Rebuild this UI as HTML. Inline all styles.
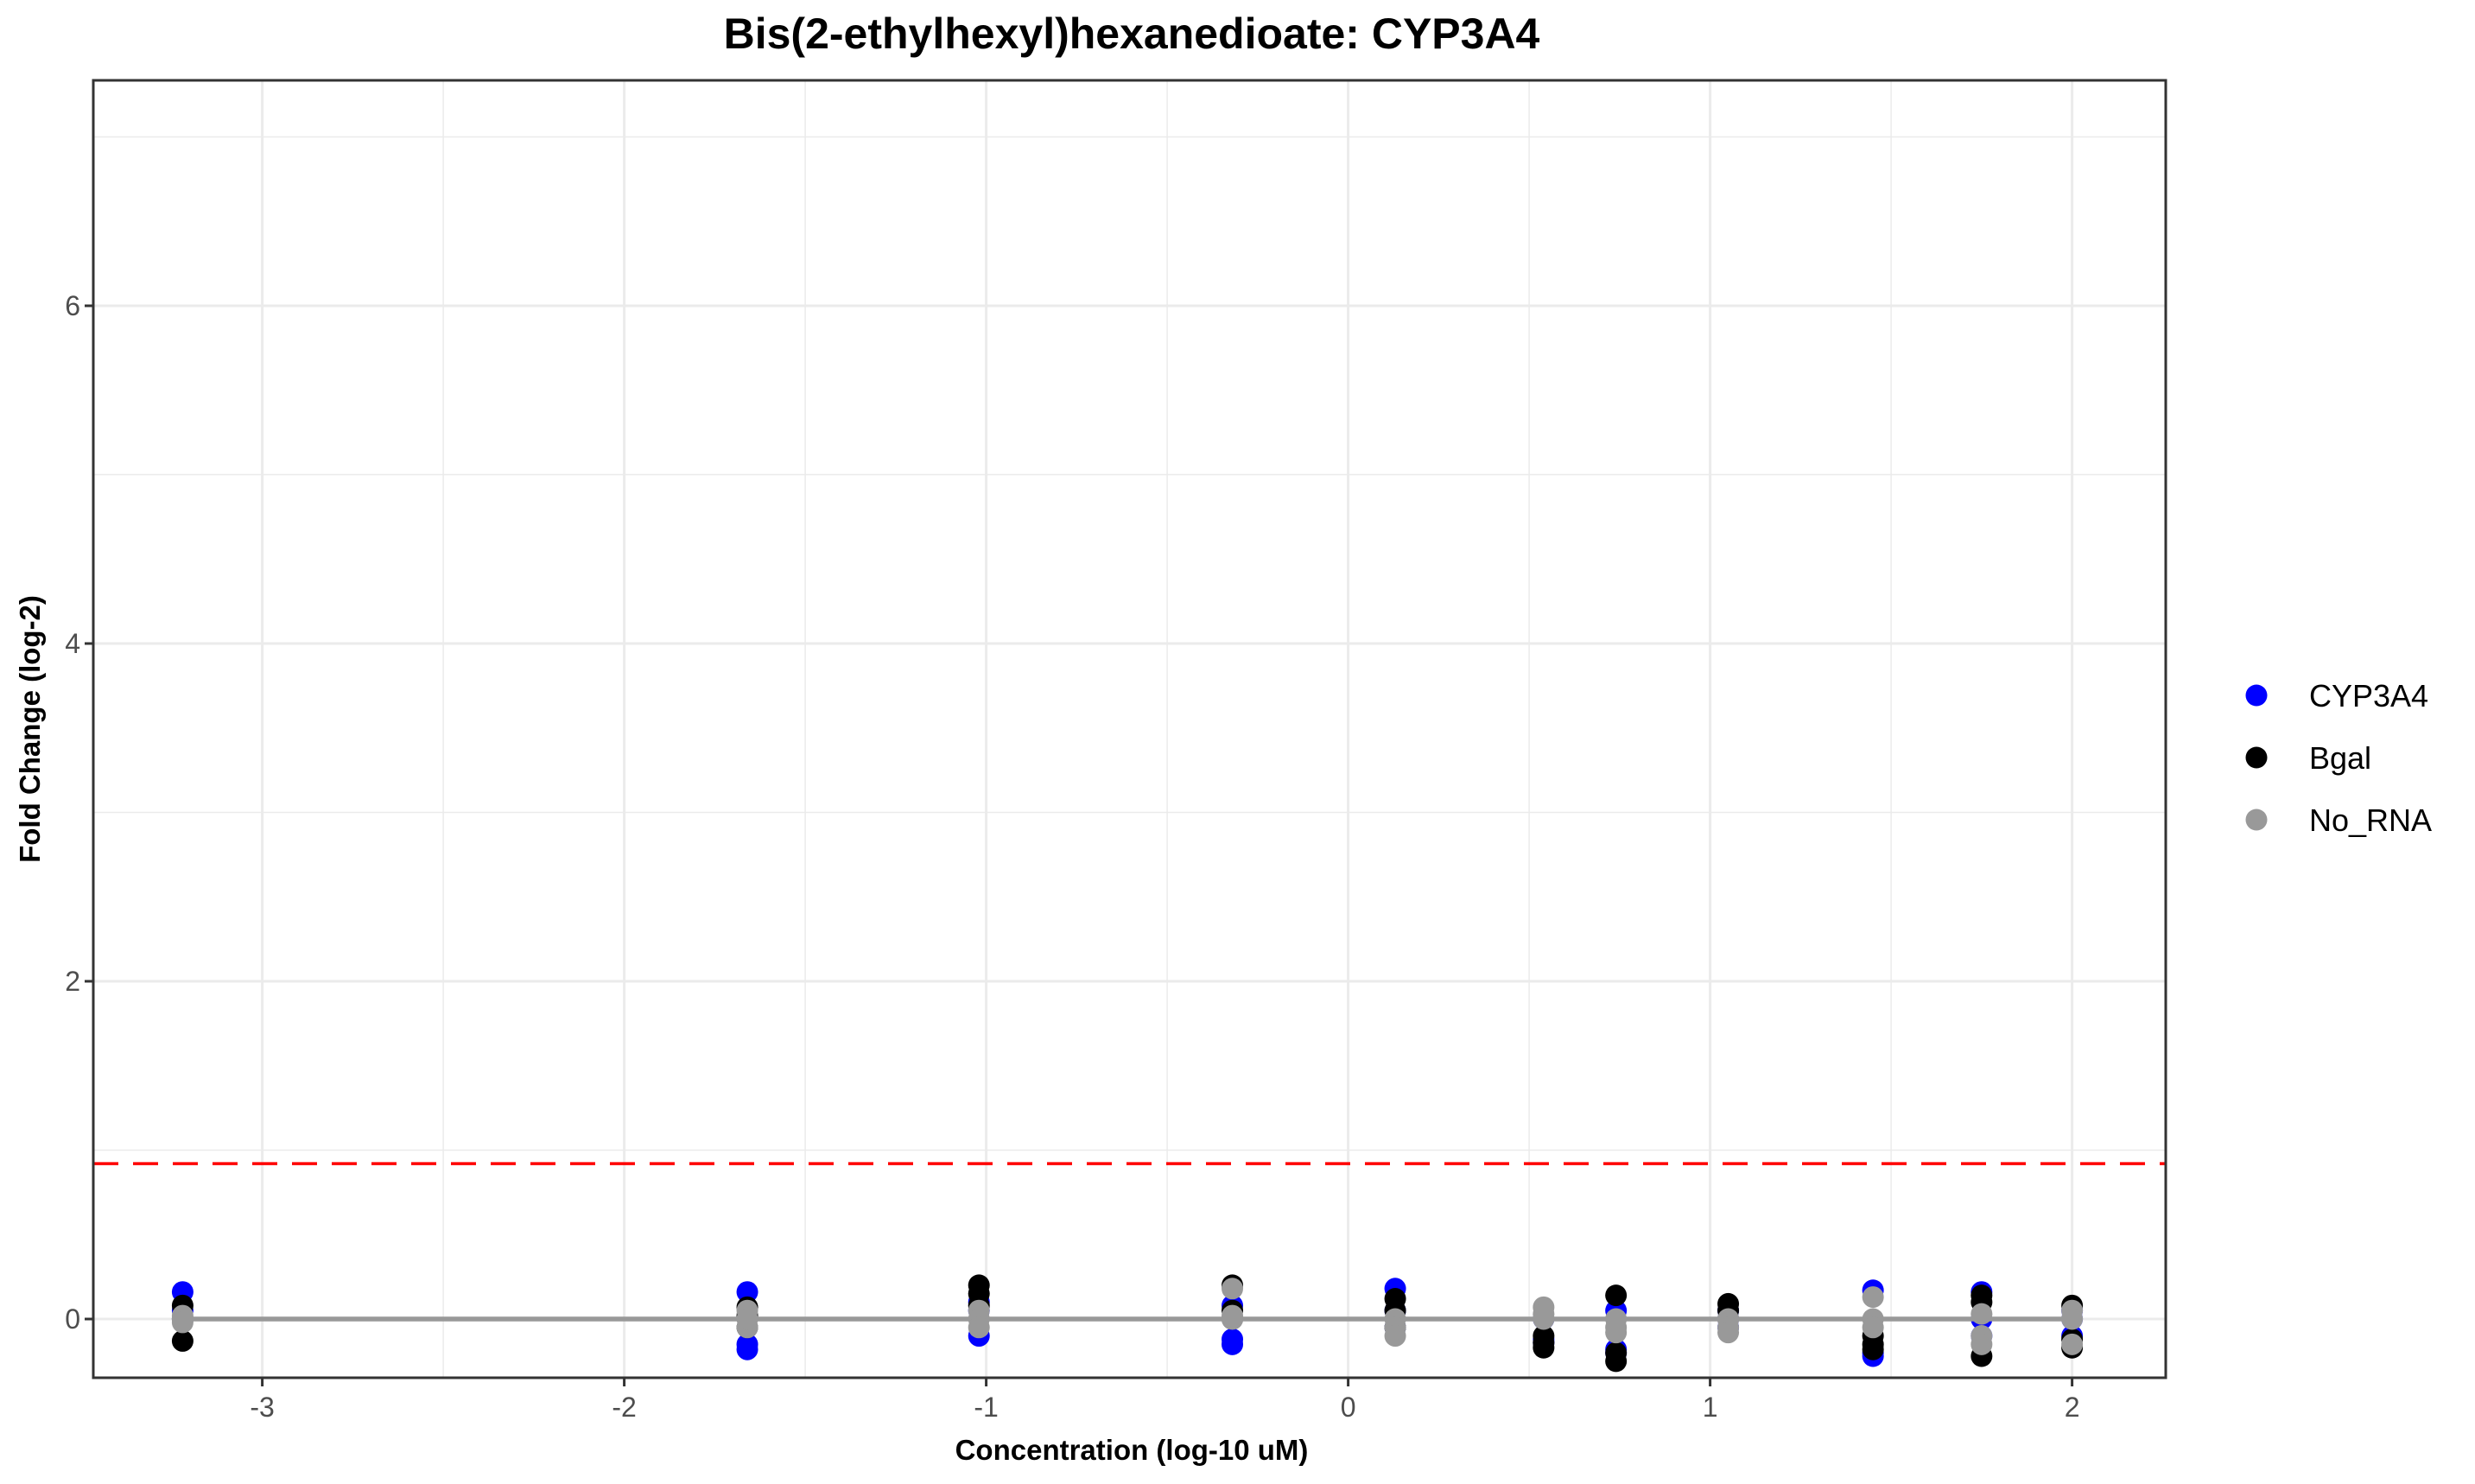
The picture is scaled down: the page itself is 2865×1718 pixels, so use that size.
<!DOCTYPE html>
<html><head><meta charset="utf-8"><style>
html,body{margin:0;padding:0;background:#fff;}
svg{display:block;font-family:"Liberation Sans",Arial,sans-serif;}
</style></head><body>
<svg id="chart" width="2865" height="1718" viewBox="0 0 2865 1718">
<text x="1310" y="56" text-anchor="middle" font-size="50" font-weight="bold">Bis(2-ethylhexyl)hexanedioate: CYP3A4</text>
<g id="grid"></g>
<g id="marks"></g>
<rect x="108" y="93" width="2399" height="1502" fill="none" stroke="#333" stroke-width="3"/>
<g id="axes"></g>
<text x="1310" y="1690" text-anchor="middle" font-size="33" font-weight="bold">Concentration (log-10 uM)</text>
<text transform="translate(46,844) rotate(-90)" text-anchor="middle" font-size="33" font-weight="bold">Fold Change (log-2)</text>
<g>
<circle cx="2612" cy="805" r="12.5" fill="#0000ff"/>
<text x="2673" y="818" font-size="36">CYP3A4</text>
<circle cx="2612" cy="877" r="12.5" fill="#000"/>
<text x="2673" y="890" font-size="36">Bgal</text>
<circle cx="2612" cy="949" r="12.5" fill="#999"/>
<text x="2673" y="962" font-size="36">No_RNA</text>
</g>
</svg>
<script>
const concentrations = [-3.22, -1.66, -1.02, -0.32, 0.13, 0.54, 0.74, 1.05, 1.45, 1.75, 2.0];
const cyp3a4 = [[0.16,0.0,0.05],[0.16,-0.15,-0.18],[-0.1,0.05,0.1],[0.08,-0.12,-0.15],[0.18,0.05,-0.05],[-0.12,-0.14,0.0],[0.05,-0.18,-0.2],[0.05,-0.05,0.0],[0.17,-0.2,-0.22],[0.16,0.0,-0.1],[0.05,-0.1,0.0]];
const bgal = [[0.08,-0.13,0.0],[0.07,0.02,-0.05],[0.2,0.15,0.08],[0.2,0.05,0.0],[0.12,0.05,-0.05],[-0.14,-0.17,-0.1],[0.14,-0.2,-0.25],[0.09,0.05,0.0],[-0.1,-0.15,-0.18],[0.14,0.1,-0.22],[0.08,-0.12,-0.17]];
const noRna = [[0.0,0.02,-0.02],[0.05,-0.05,0.0],[0.05,0.0,-0.05],[0.18,0.02,0.0],[0.0,-0.05,-0.1],[0.07,0.0,0.03],[-0.05,0.0,-0.08],[0.0,-0.05,-0.08],[0.13,0.0,-0.05],[0.03,-0.1,-0.15],[0.05,0.0,-0.15]];
const threshold = 0.92;
const xTicks = [-3,-2,-1,0,1,2];
const yTicks = [0,2,4,6];
const xMinor = [-2.5,-1.5,-0.5,0.5,1.5];
const yMinor = [1,3,5,7];

const NS='http://www.w3.org/2000/svg';
const PL=108, PR=2507, PT=93, PB=1595;
function sx(v){return 1560.6 + v*419;}
function sy(v){return 1527 - v*195.5;}
function mk(tag, attrs, parent){const e=document.createElementNS(NS,tag);for(const k in attrs)e.setAttribute(k,attrs[k]);parent.appendChild(e);return e;}
const grid=document.getElementById('grid'), marks=document.getElementById('marks'), axes=document.getElementById('axes');

xMinor.forEach(v=>{const l=mk('line',{x1:sx(v),x2:sx(v),y1:PT,y2:PB,stroke:'#ebebeb','stroke-width':1.5},grid);

});
yMinor.forEach(v=>{const l=mk('line',{x1:PL,x2:PR,y1:sy(v),y2:sy(v),stroke:'#ebebeb','stroke-width':1.5},grid);

});
xTicks.forEach(v=>{const l=mk('line',{x1:sx(v),x2:sx(v),y1:PT,y2:PB,stroke:'#ebebeb','stroke-width':3},grid);


const t=mk('line',{x1:sx(v),x2:sx(v),y1:PB,y2:PB+10,stroke:'#333','stroke-width':3},axes);


const tx=mk('text',{x:sx(v),y:PB+45,'text-anchor':'middle','font-size':32,fill:'#4d4d4d'},axes);tx.textContent=String(v);

});
yTicks.forEach(v=>{const l=mk('line',{x1:PL,x2:PR,y1:sy(v),y2:sy(v),stroke:'#ebebeb','stroke-width':3},grid);


const t=mk('line',{x1:PL-10,x2:PL,y1:sy(v),y2:sy(v),stroke:'#333','stroke-width':3},axes);


const tx=mk('text',{x:PL-15,y:sy(v)+11,'text-anchor':'end','font-size':32,fill:'#4d4d4d'},axes);tx.textContent=String(v);

});

const thr=mk('line',{x1:PL,x2:PR,y1:sy(threshold),y2:sy(threshold),stroke:'#ff0000','stroke-width':3.5,'stroke-dasharray':'29 17'},marks);



function drawSeries(data,color,name){
  data.forEach((reps,i)=>reps.forEach(v=>{
    const c=mk('circle',{cx:sx(concentrations[i]),cy:sy(v),r:12.5,fill:color},marks);
    
    
  }));
}
drawSeries(cyp3a4,'#0000ff','point-cyp3a4');
drawSeries(bgal,'#000000','point-bgal');
const fit=mk('line',{x1:sx(concentrations[0]),x2:sx(concentrations[concentrations.length-1]),y1:sy(0),y2:sy(0),stroke:'#999','stroke-width':5.5},marks);


drawSeries(noRna,'#999999','point-no-rna');
</script>
</body></html>
